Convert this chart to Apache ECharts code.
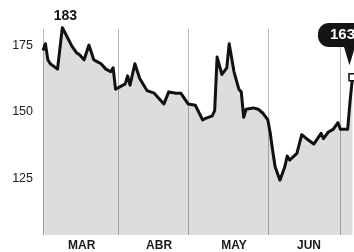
<!DOCTYPE html>
<html>
<head>
<meta charset="utf-8">
<script src="https://cdn.jsdelivr.net/npm/echarts@6/dist/echarts.min.js"></script>
<style>
html, body { margin: 0; padding: 0; background: #fff; overflow: hidden; }
#chart { width: 380px; height: 252px; }
</style>
</head>
<body>
<div id="chart"></div>
<script>
const pointDays = [0, 1, 2, 3, 6, 8, 10, 12, 14, 15, 17, 19, 21, 22, 24, 26, 28, 29, 30,
  34, 35, 36, 38, 40, 43, 46, 50, 52, 55, 57, 60, 63, 66, 67, 70, 71, 72, 74, 76, 77,
  79, 81, 82, 83, 84, 87, 89, 91, 93, 94, 95, 96, 98, 100, 101, 102, 105, 107, 109,
  112, 115, 116, 118, 120, 122, 123, 126, 127, 128]
const pointValues = [173, 175.5, 169.5, 168, 166, 181.5, 178, 174.5, 172, 171.5, 169.5, 175, 169.5, 169, 168, 166, 165, 166.5, 158.5,
  160.5, 163.5, 160, 168, 162.5, 158, 157, 153, 157.5, 157, 157, 153, 152.5, 147, 147.5, 148.5, 150.5, 170.5, 164, 166.5, 175.5,
  165, 158.5, 157.5, 148, 151, 151.5, 151, 149.5, 147, 142, 135.5, 129.5, 124.5, 129.5, 133.5, 132, 134.5, 141.5, 140,
  138, 142, 140, 142.5, 143.5, 146, 143.5, 143.5, 154, 163]

const monthNames = ['MAR', 'ABR', 'MAY', 'JUN']
const monthLabelDays = [16, 48, 79, 110]
const monthStartDays = [0, 31, 60, 93, 123]
const yTicks = [125, 150, 175]
const dayCount = 135

const peakDay = 8
const peakText = '183'
const lastText = '163'

let days = []
for (let i = 0; i < dayCount; i++) {
  days.push(String(i))
}

let seriesData = []
for (let i = 0; i < pointDays.length; i++) {
  let item = { value: [pointDays[i], pointValues[i]] }
  if (pointDays[i] == peakDay) {
    item.label = {
      show: true,
      position: 'top',
      distance: 4,
      offset: [3, 0],
      formatter: peakText,
      color: '#111',
      fontSize: 14,
      fontWeight: 'bold',
      fontFamily: 'Liberation Sans'
    }
  }
  if (i == pointDays.length - 1) {
    item.symbol = 'rect'
    item.symbolSize = 7
    item.itemStyle = { color: '#fff', borderColor: '#111', borderWidth: 1.5 }
    item.label = {
      show: true,
      position: 'top',
      distance: 26,
      offset: [-10, 0],
      formatter: lastText,
      color: '#fff',
      backgroundColor: '#141414',
      borderRadius: 11,
      padding: [4, 12],
      lineHeight: 16,
      fontSize: 15,
      fontWeight: 'bold',
      fontFamily: 'Liberation Sans'
    }
  }
  seriesData.push(item)
}

let myChart = echarts.init(document.getElementById('chart'))

let option = {
  backgroundColor: '#fff',
  animation: false,
  grid: {
    left: 43,
    right: 13,
    top: 29,
    bottom: 17
  },
  xAxis: {
    type: 'category',
    data: days,
    boundaryGap: false,
    axisLine: { show: false },
    axisTick: { show: false },
    axisLabel: {
      interval: function (index) {
        return monthLabelDays.indexOf(index) >= 0
      },
      formatter: function (value, index) {
        return monthNames[monthLabelDays.indexOf(Number(value))] || ''
      },
      margin: 5,
      color: '#1a1a1a',
      fontSize: 12,
      fontWeight: 'bold',
      fontFamily: 'Liberation Sans'
    },
    splitLine: {
      show: true,
      interval: function (index) {
        return monthStartDays.indexOf(index) >= 0
      },
      lineStyle: { color: '#b8b8b8', width: 1 }
    }
  },
  yAxis: {
    type: 'value',
    min: 104,
    max: 181,
    interval: 1,
    axisLine: { show: false },
    axisTick: { show: false },
    splitLine: { show: false },
    axisLabel: {
      margin: 10,
      color: '#222',
      fontSize: 12.5,
      fontFamily: 'Liberation Sans',
      formatter: function (v) {
        return yTicks.indexOf(v) >= 0 ? String(v) : ''
      }
    }
  },
  series: [{
    type: 'line',
    data: seriesData,
    clip: false,
    symbol: 'circle',
    symbolSize: 0.1,
    showSymbol: true,
    showAllSymbol: true,
    lineStyle: { color: '#111', width: 3, join: 'round' },
    itemStyle: { color: '#111' },
    areaStyle: { color: 'rgba(0,0,0,0.19)', origin: 'start' },
    markPoint: {
      symbol: 'triangle',
      symbolRotate: 180,
      symbolSize: [12, 20],
      symbolOffset: [-3, -22],
      itemStyle: { color: '#141414' },
      label: { show: false },
      data: [{ coord: [pointDays[pointDays.length - 1], pointValues[pointValues.length - 1]] }]
    }
  }]
}

myChart.setOption(option)
window.addEventListener('resize', function () {
  myChart.resize()
})
</script>
</body>
</html>
